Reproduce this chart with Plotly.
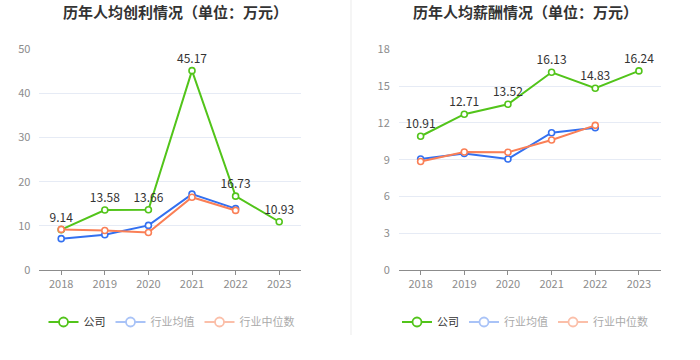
import plotly.graph_objects as go

years = ["2018", "2019", "2020", "2021", "2022", "2023"]

profit_company = [9.14, 13.58, 13.66, 45.17, 16.73, 10.93]
profit_ind_mean = [7.1, 8.0, 10.1, 17.2, 13.9]
profit_ind_median = [9.2, 8.95, 8.5, 16.5, 13.5]

salary_company = [10.91, 12.71, 13.52, 16.13, 14.83, 16.24]
salary_ind_mean = [9.05, 9.5, 9.05, 11.2, 11.6]
salary_ind_median = [8.85, 9.63, 9.6, 10.6, 11.8]

left_title = "历年人均创利情况（单位：万元）"
right_title = "历年人均薪酬情况（单位：万元）"
names = ["公司", "行业均值", "行业中位数"]

GREEN = "#52c41a"
BLUE = "#3370f0"
ORANGE = "#fa7f56"
LEGEND_COLORS = [GREEN, "#a9c3f7", "#fbbfa9"]
LEGEND_TEXT = ["#333333", "#aaaaaa", "#aaaaaa"]
FONT = "Noto Sans CJK SC, Noto Sans, sans-serif"

fig = go.Figure()


def add_chart(xa, ya, legend, company, mean, median):
    fig.add_trace(go.Scatter(
        x=years, y=company, mode="lines+markers+text", name=names[0],
        text=[f"{v:.2f}" for v in company], textposition="top center",
        textfont=dict(size=12, color="#333333"),
        line=dict(color=GREEN, width=2),
        marker=dict(symbol="circle", size=6, color="white", line=dict(color=GREEN, width=1.6)),
        xaxis=xa, yaxis=ya, showlegend=False, cliponaxis=False,
    ))
    for vals, col, nm in [(mean, BLUE, names[1]), (median, ORANGE, names[2])]:
        fig.add_trace(go.Scatter(
            x=years[:len(vals)], y=vals, mode="lines+markers", name=nm,
            line=dict(color=col, width=2),
            marker=dict(symbol="circle", size=6, color="white", line=dict(color=col, width=1.6)),
            xaxis=xa, yaxis=ya, showlegend=False,
        ))
    for col, tcol, nm in zip(LEGEND_COLORS, LEGEND_TEXT, names):
        fig.add_trace(go.Scatter(
            x=[None], y=[None], mode="lines+markers",
            name=f"<span style='color:{tcol}'>{nm}</span>",
            line=dict(color=col, width=2),
            marker=dict(symbol="circle", size=9, color="white", line=dict(color=col, width=1.8)),
            xaxis=xa, yaxis=ya, legend=legend, showlegend=True,
        ))


add_chart("x", "y", "legend", profit_company, profit_ind_mean, profit_ind_median)
add_chart("x2", "y2", "legend2", salary_company, salary_ind_mean, salary_ind_median)

xcommon = dict(type="category", showgrid=False, showline=True, linecolor="#8c8c8c", linewidth=1,
               ticks="outside", ticklen=4, tickcolor="#8c8c8c", automargin=False,
               range=[-0.5, len(years) - 0.5], autorange=False,
               categoryorder="array", categoryarray=years,
               tickfont=dict(size=11, color="#8c8c8c", family=FONT), fixedrange=True)
ycommon = dict(showgrid=True, gridcolor="#e6ebf5", gridwidth=1, zeroline=False, showline=False,
               automargin=False, fixedrange=True,
               tickfont=dict(size=11, color="#8c8c8c", family=FONT), ticks="", ticklabelstandoff=8)

legend_common = dict(orientation="h", xanchor="center", y=1 - 322 / 360, yanchor="middle",
                     font=dict(size=11, color="#333333", family=FONT), itemwidth=30,
                     tracegroupgap=0, bgcolor="rgba(0,0,0,0)")

fig.update_layout(
    width=700, height=360,
    margin=dict(l=0, r=0, t=0, b=0, autoexpand=False),
    paper_bgcolor="white", plot_bgcolor="white",
    font=dict(family=FONT, color="#333333"),
    xaxis=dict(domain=[0.0563, 0.43], **xcommon),
    xaxis2=dict(domain=[0.5697, 0.9439], anchor="y2", **xcommon),
    yaxis=dict(domain=[0.25, 0.863], range=[0, 50], dtick=10, anchor="x", **ycommon),
    yaxis2=dict(domain=[0.25, 0.863], range=[0, 18], dtick=3, anchor="x2", **ycommon),
    legend=dict(x=0.245, **legend_common),
    legend2=dict(x=0.75, **legend_common),
    showlegend=True,
    annotations=[
        dict(text=f"<b>{left_title}</b>", x=0.25, y=1 - 12 / 360, xref="paper", yref="paper",
             showarrow=False, font=dict(size=15, color="#333333", family=FONT), xanchor="center", yanchor="middle"),
        dict(text=f"<b>{right_title}</b>", x=0.75, y=1 - 12 / 360, xref="paper", yref="paper",
             showarrow=False, font=dict(size=15, color="#333333", family=FONT), xanchor="center", yanchor="middle"),
    ],
    shapes=[dict(type="line", xref="paper", yref="paper", x0=351 / 700, x1=351 / 700,
                 y0=1 - 335 / 360, y1=1, line=dict(color="#f2f2f2", width=1.5))],
)

fig.write_html("out.html", config={"displayModeBar": False},
               post_script="document.body.style.margin='0';")
